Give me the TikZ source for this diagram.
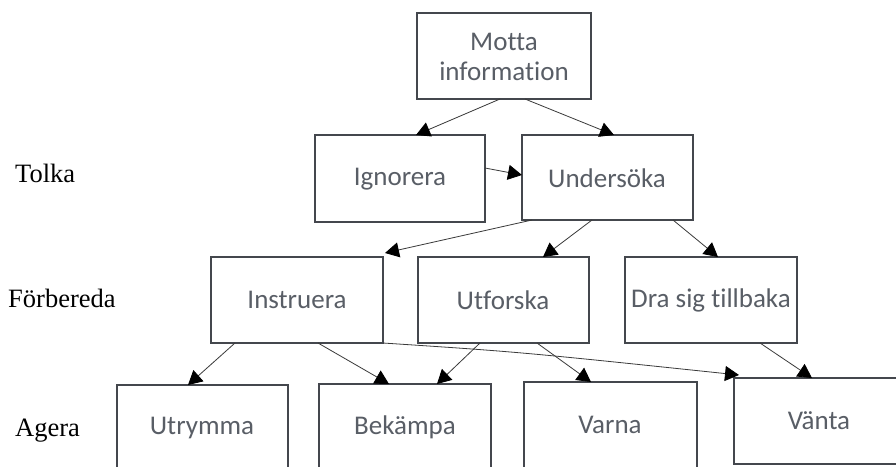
\documentclass[tikz,border=0pt]{standalone}
\usepackage{fontspec}
\setmainfont{Liberation Serif}
\newfontfamily\boxfont[Ligatures=NoCommon]{Carlito}
\usetikzlibrary{arrows.meta}
\definecolor{boxline}{HTML}{44474D}
\definecolor{boxtext}{HTML}{595E66}
\definecolor{arrline}{HTML}{3A3A3A}
\tikzset{
  stepbox/.style={draw=boxline, line width=1.8pt, inner sep=0pt, outer sep=0pt},
  boxlabel/.style={font=\boxfont\fontsize{27}{30}\selectfont, text=boxtext, align=center},
  levellabel/.style={font=\fontsize{26.5}{30}\selectfont, text=black, anchor=west, inner sep=0pt},
  arr/.style={draw=arrline, line width=0.8pt, -{Triangle[length=14pt,width=15pt,black]}, shorten >=0pt},
}
\begin{document}
\begin{tikzpicture}[x=1pt,y=-1pt]
\useasboundingbox (0,0) rectangle (896,466);
\clip (0,0) rectangle (896,466);
\fill[white] (0,0) rectangle (896,466);
% boxes
\draw[stepbox] (417,13) rectangle (591,99);
\node[boxlabel] (motta) at (504,57) {Motta\\information};
\draw[stepbox] (315,135) rectangle (485,222);
\node[boxlabel] (ign) at (400,179) {Ignorera};
\draw[stepbox] (522,135) rectangle (693,220);
\node[boxlabel] (und) at (607,178) {Undersöka};
\draw[stepbox] (211,257) rectangle (383,343);
\node[boxlabel] (ins) at (297,300) {Instruera};
\draw[stepbox] (418,257) rectangle (589,343);
\node[boxlabel] (utf) at (503,300) {Utforska};
\draw[stepbox] (625,257) rectangle (797,343);
\node[boxlabel] (dra) at (711,300) {Dra sig tillbaka};
\draw[stepbox] (117,385) rectangle (288,471);
\node[boxlabel] (utr) at (202,428) {Utrymma};
\draw[stepbox] (319,384) rectangle (491,470);
\node[boxlabel] (bek) at (405,427) {Bekämpa};
\draw[stepbox] (524,382) rectangle (697,468);
\node[boxlabel] (var) at (610,425) {Varna};
\draw[stepbox] (734,378) rectangle (904,464);
\node[boxlabel] (van) at (819,421) {Vänta};
% level labels
\node[levellabel] (tolka) at (15,173) {Tolka};
\node[levellabel] (forb) at (8,298) {Förbereda};
\node[levellabel] (agera) at (15,431) {Agera};
% anchor coordinates on box edges
\coordinate (mA) at (500,99);
\coordinate (mB) at (525,99);
\coordinate (iT) at (416,135);
\coordinate (uT) at (614,135);
\coordinate (iR) at (485,168);
\coordinate (uL) at (522,175);
\coordinate (uB1) at (532,220);
\coordinate (uB2) at (592,220);
\coordinate (uB3) at (673,220);
\coordinate (insT) at (385,253);
\coordinate (utfT) at (543,257);
\coordinate (draT) at (718,257);
\coordinate (insB1) at (235,343);
\coordinate (insB2) at (318,343);
\coordinate (insB3) at (383,343);
\coordinate (utfB1) at (480,343);
\coordinate (utfB2) at (537,343);
\coordinate (draB) at (760,343);
\coordinate (utrT) at (188,385);
\coordinate (bekT1) at (389,384);
\coordinate (bekT2) at (437,384);
\coordinate (varT) at (591,382);
\coordinate (vanT1) at (739,375);
\coordinate (vanT2) at (812,378);
% connectors
\draw[arr] (mA) -- (iT);
\draw[arr] (mB) -- (uT);
\draw[arr] (iR) -- (uL);
\draw[arr] (uB1) -- (insT);
\draw[arr] (uB2) -- (utfT);
\draw[arr] (uB3) -- (draT);
\draw[arr] (insB1) -- (utrT);
\draw[arr] (insB2) -- (bekT1);
\draw[arr] (insB3) .. controls (520,352) .. (vanT1);
\draw[arr] (utfB1) -- (bekT2);
\draw[arr] (utfB2) -- (varT);
\draw[arr] (draB) -- (vanT2);
\end{tikzpicture}
\end{document}
